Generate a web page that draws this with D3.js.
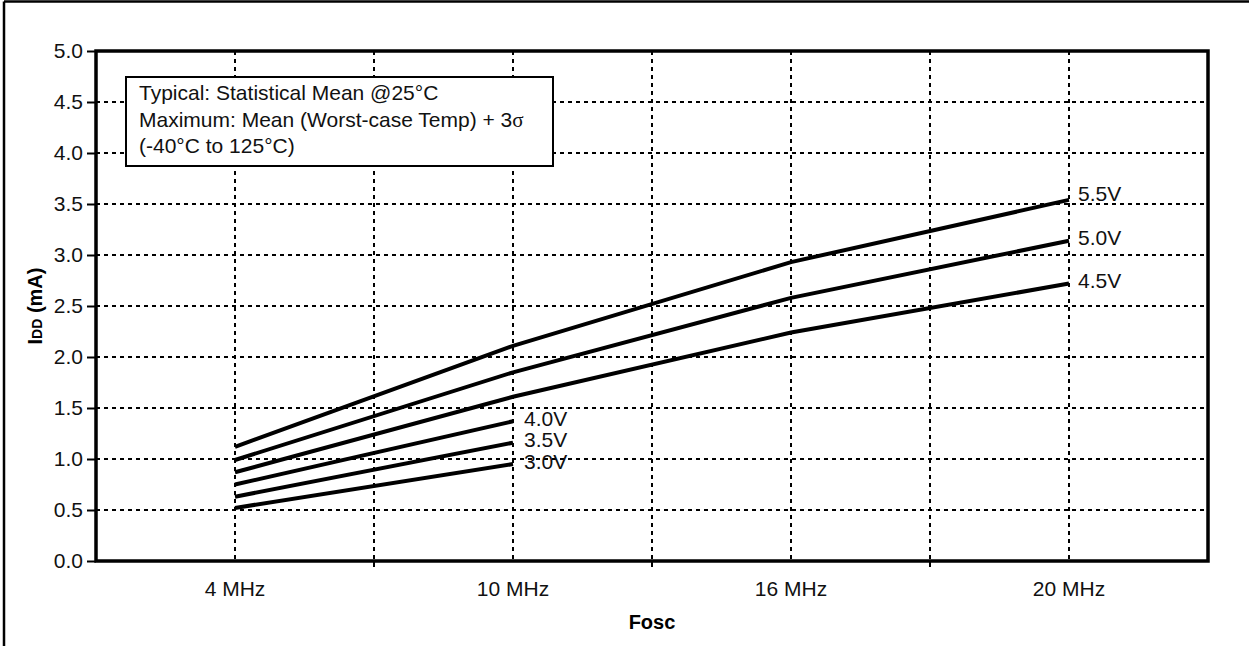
<!doctype html>
<html>
<head>
<meta charset="utf-8">
<title>IDD vs Fosc</title>
<script src="https://d3js.org/d3.v7.min.js"></script>
<style>
  body { margin: 0; background: #fff; }
  svg { display: block; font-family: "Liberation Sans", Arial, sans-serif; }
  .grid { stroke: #000; stroke-width: 2; stroke-dasharray: 4,4; fill: none; }
  .curve { fill: none; stroke: #000; stroke-width: 4; }
  .lbl { font-size: 21px; fill: #111; }
</style>
</head>
<body>
<script>
// chart values
var categories = ["4 MHz", "10 MHz", "16 MHz", "20 MHz"];
var yTicks = [0, 0.5, 1, 1.5, 2, 2.5, 3, 3.5, 4, 4.5, 5];
var v55 = [1.12, 2.11, 2.93, 3.54];
var v50 = [0.99, 1.85, 2.58, 3.14];
var v45 = [0.87, 1.61, 2.24, 2.72];
var v40 = [0.75, 1.37];
var v35 = [0.63, 1.16];
var v30 = [0.52, 0.95];
var seriesNames = ["5.5V", "5.0V", "4.5V", "4.0V", "3.5V", "3.0V"];
var seriesValues = [v55, v50, v45, v40, v35, v30];
var legendLines = ["Typical: Statistical Mean @25\u00B0C", "Maximum: Mean (Worst-case Temp) + 3", "(-40\u00B0C to 125\u00B0C)"];

var W = 1249, H = 646;
var pLeft = 96, pRight = 1208, pTop = 51, pBottom = 561;

var svg = d3.select("body").append("svg").attr("width", W).attr("height", H);

// outer frame (only left and top visible)
svg.append("line").attr("x1", 4).attr("y1", 1.5).attr("x2", W).attr("y2", 1.5).attr("stroke", "#000").attr("stroke-width", 2.5);
svg.append("line").attr("x1", 4).attr("y1", 1.5).attr("x2", 4).attr("y2", H).attr("stroke", "#000").attr("stroke-width", 2.5);

var x = d3.scaleBand().domain(categories).range([pLeft, pRight]).padding(0);
var y = d3.scaleLinear().domain([0, 5]).range([pBottom, pTop]);
var bw = x.bandwidth();

// horizontal grid
svg.selectAll(".hgrid").data(yTicks.filter(function(d){ return d > 0 && d < 5; })).enter().append("line")
  .attr("class", "grid")
  .attr("x1", pLeft).attr("x2", pRight)
  .attr("y1", function(d){ return y(d); }).attr("y2", function(d){ return y(d); });

// vertical grid: at category centres and band boundaries
var vx = [];
categories.forEach(function(c, i){
  vx.push(x(c) + bw / 2);
  if (i > 0) vx.push(x(c));
});
svg.selectAll(".vgrid").data(vx).enter().append("line")
  .attr("class", "grid")
  .attr("x1", function(d){ return d; }).attr("x2", function(d){ return d; })
  .attr("y1", pTop).attr("y2", pBottom);

// y axis
var yAxis = d3.axisLeft(y).tickValues(yTicks).tickFormat(d3.format(".1f")).tickSize(9).tickPadding(4);
var gy = svg.append("g").attr("transform", "translate(" + pLeft + ",0)").call(yAxis);
gy.select(".domain").remove();
gy.selectAll("line").attr("stroke", "#000").attr("stroke-width", 2);
gy.selectAll("text").attr("class", "lbl").style("font-family", "Liberation Sans, Arial, sans-serif");

// x axis labels
var xAxis = d3.axisBottom(x).tickSize(0).tickPadding(20);
var gx = svg.append("g").attr("transform", "translate(0," + pBottom + ")").call(xAxis);
gx.select(".domain").remove();
gx.selectAll("text").attr("class", "lbl").style("font-family", "Liberation Sans, Arial, sans-serif");

// x boundary ticks
svg.selectAll(".xtick").data(categories.slice(1)).enter().append("line")
  .attr("x1", function(d){ return x(d); }).attr("x2", function(d){ return x(d); })
  .attr("y1", pBottom).attr("y2", pBottom + 6)
  .attr("stroke", "#000").attr("stroke-width", 2);

// plot frame
svg.append("rect").attr("x", pLeft).attr("y", pTop).attr("width", pRight - pLeft).attr("height", pBottom - pTop)
  .attr("fill", "none").attr("stroke", "#000").attr("stroke-width", 3.5);

// legend box
svg.append("rect").attr("x", 126).attr("y", 77).attr("width", 427).attr("height", 89)
  .attr("fill", "#fff").attr("stroke", "#000").attr("stroke-width", 2);
var lt = svg.append("g");
legendLines.forEach(function(s, i){
  var t = lt.append("text").attr("class", "lbl").attr("x", 139).attr("y", 100 + i * 26.5).text(s);
  if (i === 1) t.append("tspan").style("font-family", "serif").text("\u03C3");
});

// curves
var line = d3.line().x(function(d, i){ return x(categories[i]) + bw / 2; }).y(function(d){ return y(d); });
seriesValues.forEach(function(vals, k){
  svg.append("path").attr("class", "curve").attr("d", line(vals));
  var n = vals.length - 1;
  svg.append("text").attr("class", "lbl")
    .attr("x", x(categories[n]) + bw / 2 + (n === 3 ? 9 : 11))
    .attr("y", y(vals[n]) - (k === 0 ? 4 : 1))
    .attr("dominant-baseline", "middle")
    .text(seriesNames[k]);
});

// axis titles
svg.append("text").attr("x", (pLeft + pRight) / 2).attr("y", 629).attr("text-anchor", "middle")
  .style("font-size", "20px").style("font-weight", "bold").text("Fosc");
var yt = svg.append("text").attr("transform", "translate(42," + ((pTop + pBottom) / 2) + ") rotate(-90)")
  .attr("text-anchor", "middle").style("font-size", "20px").style("font-weight", "bold");
yt.append("tspan").text("I");
yt.append("tspan").style("font-size", "14px").text("DD");
yt.append("tspan").text(" (mA)");
</script>
</body>
</html>
